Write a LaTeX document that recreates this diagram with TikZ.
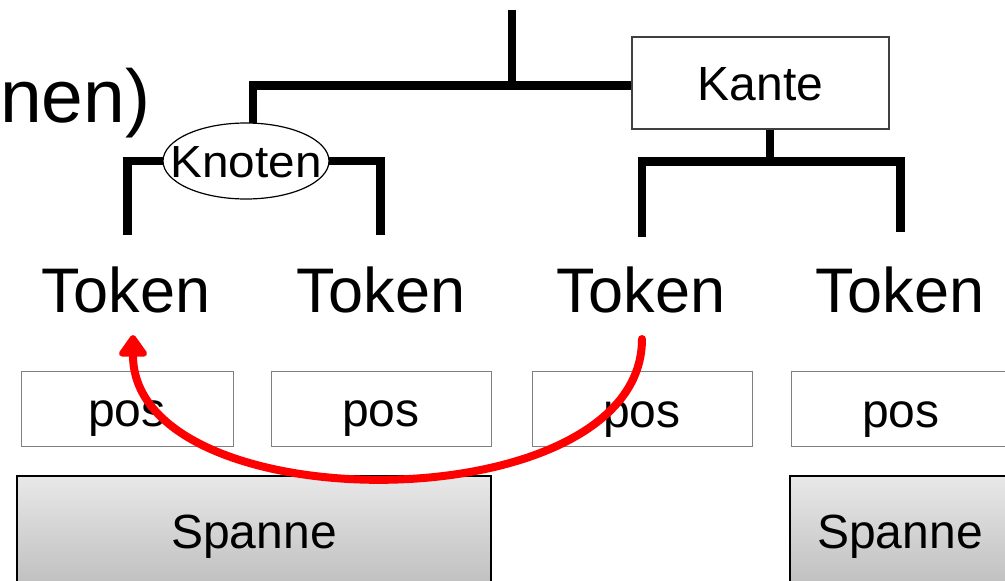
\documentclass[tikz,border=0pt]{standalone}
\usepackage{fontspec}
\setmainfont{Liberation Sans}
\usetikzlibrary{shapes.geometric,arrows.meta}
\definecolor{boxgray}{HTML}{808080}
\definecolor{arrowred}{HTML}{FF0000}
\tikzset{
  tree/.style={line width=8.5pt, line cap=butt, line join=miter},
  tok/.style={font=\fontsize{63}{70}\selectfont, inner sep=0pt, anchor=base},
  posbox/.style={draw=boxgray, line width=1pt, minimum width=212pt, minimum height=75pt, inner sep=0pt,
     font=\fontsize{48}{56}\selectfont, text height=36pt, text depth=0pt},
  spanbox/.style={draw=black, line width=2pt, top color=gray!18, bottom color=gray!50, minimum height=110pt, inner sep=0pt,
     font=\fontsize{48}{56}\selectfont, text height=34pt, text depth=0pt},
  kantebox/.style={draw=black!75, line width=1.5pt, fill=white, minimum width=257pt, minimum height=92pt, inner sep=0pt,
     font=\fontsize{48}{56}\selectfont, text height=34pt, text depth=0pt},
  knotenell/.style={ellipse, draw=black, line width=1.2pt, fill=white, minimum width=166pt, minimum height=76pt, inner sep=0pt,
     font=\fontsize{45}{52}\selectfont, text height=32pt, text depth=0pt, text width=0pt},
  redarrow/.style={draw=arrowred, line width=8pt, line cap=round, -{Triangle[length=24pt,width=32pt,round]}},
}
\begin{document}
\begin{tikzpicture}[x=1pt,y=-1pt]
\useasboundingbox (0,0) rectangle (1005,581);
\begin{scope}
\clip (0,0) rectangle (1005,581);
% title fragment
\node[font=\fontsize{75}{84}\selectfont, inner sep=0pt, anchor=base west] (title) at (0,122) {nen)};

% Kante box
\node[kantebox] (ka) at (760.5,83) {Kante};

% tree lines
\coordinate (root) at (512,10);
\coordinate (jl) at (253,85.5);
\coordinate (kc) at (246,161);
\coordinate (tl) at (127.5,235);
\coordinate (tr) at (380.5,235);
\coordinate (kj) at (770,161.5);
\coordinate (kl) at (642,237);
\coordinate (kr) at (900.5,232);
\draw[tree] (root) -- (root |- jl);
\draw[tree] (jl |- kc) -- (jl) -- (ka.west |- jl);
\draw[tree] (kc) -| (tl);
\draw[tree] (kc) -| (tr);
\draw[tree] (kj |- ka.south) -- (kj);
\draw[tree] (kl) -- (kl |- kj) -- (kr |- kj) -- (kr);
% Knoten ellipse on top of the lines
\node[knotenell] (kn) at (kc) {\makebox[0pt]{\scalebox{1.06}[1]{Knoten}}};

% tokens
\node[tok] (t1) at (126,312) {Token};
\node[tok] (t2) at (381,312) {Token};
\node[tok] (t3) at (641,312) {Token};
\node[tok] (t4) at (900,312) {Token};

% pos boxes
\node[posbox] (p1) at (127,408.5) {pos};
\node[posbox, minimum width=220pt] (p2) at (381,408.5) {pos};
\node[posbox, minimum width=220pt] (p3) at (642,409) {pos};
\node[posbox, minimum width=220pt] (p4) at (901,409) {pos};

% Spanne boxes
\node[spanbox, minimum width=474pt] (s1) at (254,531) {Spanne};
\node[spanbox, minimum width=224pt] (s2) at (902,531) {\hspace*{-4pt}Spanne};

% red arrow
\coordinate (as) at (642,339);
\coordinate (ae) at (133,335);
\draw[redarrow] (as) .. controls (642,524) and (133,524) .. (ae);
\end{scope}
\end{tikzpicture}
\end{document}
